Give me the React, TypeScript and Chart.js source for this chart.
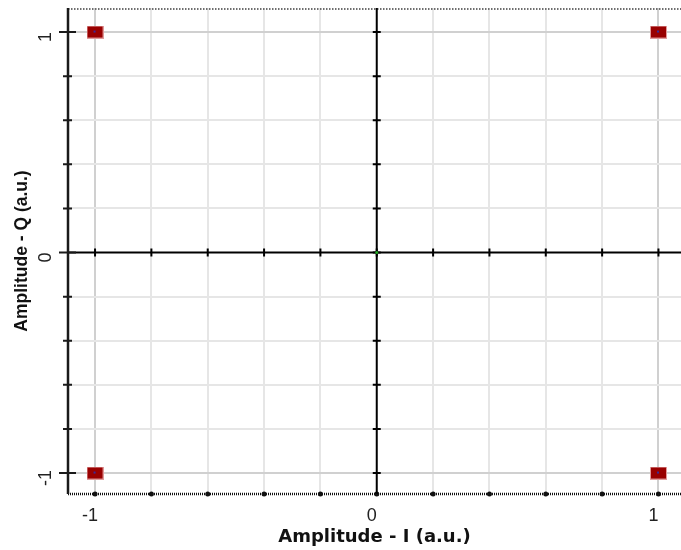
import React, { useEffect, useRef } from 'react';
import { Chart, registerables } from 'chart.js';

Chart.register(...registerables);

// ---- data ----
const symbolI = [-1, 1, -1, 1];
const symbolQ = [1, 1, -1, -1];
const originI = [0];
const originQ = [0];
const gridValues = [-1, -0.8, -0.6, -0.4, -0.2, 0, 0.2, 0.4, 0.6, 0.8, 1];
const labeledValues = [-1, 0, 1];
const xRange = [-1.096, 1.08];
const yRange = [-1.095, 1.109];
const xTitle = 'Amplitude - I (a.u.)';
const yTitle = 'Amplitude - Q (a.u.)';

function makeMarker(): HTMLCanvasElement {
  const c = document.createElement('canvas');
  c.width = 17;
  c.height = 13;
  const g = c.getContext('2d')!;
  g.fillStyle = '#e09a9a';
  g.fillRect(0, 0, 17, 13);
  g.fillStyle = '#990000';
  g.fillRect(1, 1, 15, 11);
  g.fillStyle = '#3a2a9a';
  g.fillRect(7, 5, 2, 2);
  return c;
}

const decorPlugin = {
  id: 'constellationDecor',
  beforeDatasetsDraw(chart: any) {
    const { ctx, chartArea, scales } = chart;
    const xs = scales.x;
    const ys = scales.y;
    const { left, right, top, bottom } = chartArea;
    const x0 = xs.getPixelForValue(0);
    const y0 = ys.getPixelForValue(0);
    ctx.save();
    // top dotted border
    ctx.strokeStyle = '#6e6e6e';
    ctx.lineWidth = 2;
    ctx.setLineDash([1.5, 1.5]);
    ctx.beginPath();
    ctx.moveTo(left, top + 1);
    ctx.lineTo(right, top + 1);
    ctx.stroke();
    // bottom dotted axis
    ctx.strokeStyle = '#111';
    ctx.lineWidth = 2.5;
    ctx.setLineDash([1, 1]);
    ctx.beginPath();
    ctx.moveTo(left, bottom);
    ctx.lineTo(right, bottom);
    ctx.stroke();
    ctx.setLineDash([]);
    ctx.fillStyle = '#111';
    gridValues.forEach((v) => {
      const px = xs.getPixelForValue(v);
      ctx.beginPath();
      ctx.arc(px, bottom, 2.5, 0, Math.PI * 2);
      ctx.fill();
    });
    // zero lines
    ctx.strokeStyle = '#000';
    ctx.lineWidth = 2;
    ctx.beginPath();
    ctx.moveTo(x0, top);
    ctx.lineTo(x0, bottom);
    ctx.moveTo(left, y0);
    ctx.lineTo(right, y0);
    ctx.stroke();
    ctx.lineWidth = 2;
    ctx.beginPath();
    gridValues.forEach((v) => {
      const py = ys.getPixelForValue(v);
      ctx.moveTo(x0 - 4, py);
      ctx.lineTo(x0 + 4, py);
      const px = xs.getPixelForValue(v);
      ctx.moveTo(px, y0 - 4);
      ctx.lineTo(px, y0 + 4);
    });
    ctx.stroke();
    // left axis
    ctx.strokeStyle = '#1a1a1a';
    ctx.lineWidth = 2.5;
    ctx.beginPath();
    ctx.moveTo(left, top);
    ctx.lineTo(left, bottom);
    ctx.stroke();
    ctx.lineWidth = 2;
    ctx.beginPath();
    gridValues.forEach((v) => {
      const py = ys.getPixelForValue(v);
      const major = labeledValues.includes(v);
      ctx.moveTo(left - (major ? 9 : 5), py);
      ctx.lineTo(left + (major ? 8 : 4), py);
    });
    ctx.stroke();
    ctx.restore();
  },
};

const zeroPadding = (s: any) => {
  s.paddingTop = 0;
  s.paddingBottom = 0;
  s.paddingLeft = 0;
  s.paddingRight = 0;
};

export default function App() {
  const ref = useRef<HTMLCanvasElement | null>(null);
  useEffect(() => {
    if (!ref.current) return;
    const marker = makeMarker();
    const fixTicks = (scale: any) => {
      scale.ticks = gridValues.map((v) => ({ value: v }));
    };
    const gridColor = (c: any) => {
      const v = c.tick ? c.tick.value : null;
      if (v === 0) return 'rgba(0,0,0,0)';
      if (v === 1 || v === -1) return '#d0d0d0';
      return '#e6e6e6';
    };
    const labelCb = (value: any) => (labeledValues.includes(Number(value)) ? String(value) : '');
    const chart = new Chart(ref.current, {
      type: 'scatter',
      data: {
        datasets: [
          {
            label: 'Symbols',
            data: symbolI.map((x, i) => ({ x, y: symbolQ[i] })),
            pointStyle: marker as any,
            pointRadius: 8,
            pointHoverRadius: 8,
          },
          {
            label: 'Origin',
            data: originI.map((x, i) => ({ x, y: originQ[i] })),
            pointStyle: 'circle',
            pointRadius: 1.5,
            backgroundColor: '#22aa22',
            borderColor: '#22aa22',
            borderWidth: 0,
          },
        ],
      },
      options: {
        animation: false,
        responsive: false,
        devicePixelRatio: 1,
        layout: { autoPadding: false, padding: { top: 8, right: 0, left: 0, bottom: 0 } },
        plugins: { legend: { display: false }, tooltip: { enabled: false } },
        scales: {
          x: {
            type: 'linear',
            min: xRange[0],
            max: xRange[1],
            afterBuildTicks: fixTicks,
            afterFit: (s: any) => {
              s.height = 56;
              zeroPadding(s);
            },
            border: { display: false },
            grid: { color: gridColor, lineWidth: 2, drawTicks: false },
            ticks: {
              callback: labelCb,
              autoSkip: false,
              maxRotation: 0,
              minRotation: 0,
              padding: 11,
              labelOffset: -5,
              color: '#222',
              font: { family: 'Liberation Sans', size: 18 },
            },
            title: {
              display: true,
              text: xTitle,
              color: '#111',
              padding: { top: 0, bottom: 2 },
              font: { family: 'DejaVu Sans', size: 18, weight: 'bold' },
            },
          },
          y: {
            type: 'linear',
            min: yRange[0],
            max: yRange[1],
            afterBuildTicks: fixTicks,
            afterFit: (s: any) => {
              s.width = 68;
              zeroPadding(s);
            },
            border: { display: false },
            grid: { color: gridColor, lineWidth: 2, drawTicks: false },
            ticks: {
              callback: labelCb,
              autoSkip: false,
              minRotation: 90,
              maxRotation: 90,
              crossAlign: 'center',
              padding: 14,
              labelOffset: 5,
              color: '#222',
              font: { family: 'Liberation Sans', size: 18 },
            },
            title: {
              display: true,
              text: yTitle,
              color: '#111',
              padding: { top: 12, bottom: 4 },
              font: { family: 'Liberation Sans', size: 17.5, weight: 'bold' },
            },
          },
        },
      },
      plugins: [decorPlugin],
    });
    return () => chart.destroy();
  }, []);
  return (
    <div style={{ position: 'absolute', left: 0, top: 0, width: 681, height: 550, background: '#fff' }}>
      <canvas ref={ref} width={681} height={550} style={{ display: 'block' }} />
    </div>
  );
}
